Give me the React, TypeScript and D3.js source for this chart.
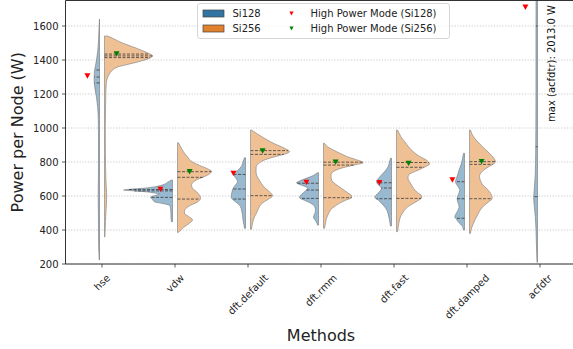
import React from 'react';
import * as d3 from 'd3';

// ---------- data ----------
const methods = ['hse', 'vdw', 'dft.default', 'dft.rmm', 'dft.fast', 'dft.damped', 'acfdtr'];
const yTicks = [200, 400, 600, 800, 1000, 1200, 1400, 1600];
const seriesNames = ['Si128', 'Si256'];
const markerNames = ['High Power Mode (Si128)', 'High Power Mode (Si256)'];

type Prof = [number, number][]; // [power (W), relative density]

const hseSi128: Prof = [[1641, 0], [1600, 0.4], [1520, 0.9], [1450, 1.8], [1400, 3], [1360, 4.2], [1320, 5.2], [1280, 5.3], [1230, 4.5], [1180, 3], [1120, 1.8], [1050, 1.2], [950, 1], [800, 1], [700, 1.1], [600, 1.3], [500, 1.1], [400, 1], [300, 0.8], [224, 0.3]];
const hseSi256: Prof = [[1541, 3], [1528, 8], [1500, 18], [1478, 28], [1455, 38], [1439, 44], [1424, 48], [1408, 44], [1390, 34], [1375, 24], [1361, 14], [1340, 8], [1312, 4.3], [1263, 1.8], [1200, 1.3], [1100, 1], [1000, 0.8], [850, 0.9], [700, 1.4], [620, 2], [580, 2.1], [520, 1.6], [450, 1], [359, 0.4]];
const vdwSi128: Prof = [[694, 1], [680, 5], [665, 10], [652, 20], [645, 30], [640, 42], [635, 49], [630, 38], [625, 27], [618, 18], [612, 13], [602, 18], [592, 22], [580, 20], [566, 18], [556, 10], [547, 3.5], [530, 2], [500, 1.6], [470, 1.5], [449, 1]];
const vdwSi256: Prof = [[913, 1], [890, 3], [860, 6], [830, 10], [800, 15], [780, 22], [760, 30], [745, 34], [730, 32], [712, 26], [695, 19], [682, 16], [665, 14], [645, 15], [625, 19], [605, 22], [585, 23], [565, 20], [545, 13], [530, 9], [510, 7], [498, 7], [480, 11], [459, 15], [440, 12], [415, 6], [386, 1]];
const defaultSi128: Prof = [[825, 1], [800, 2.5], [772, 4.3], [750, 8], [733, 12], [715, 11], [700, 9], [684, 8], [665, 10], [650, 12], [635, 13], [610, 14], [592, 14.3], [575, 12], [557, 8], [538, 5], [518, 4], [490, 3], [459, 2.5], [430, 1.5], [410, 1]];
const defaultSi256: Prof = [[988, 1], [969, 5.7], [950, 11], [929, 17], [910, 23], [890, 30.7], [875, 36], [861, 39], [848, 35], [835, 27], [824, 20], [812, 14], [795, 9], [772, 5.7], [750, 5.5], [724, 6], [700, 8], [675, 10.7], [650, 14], [625, 19], [602, 22], [585, 19], [567, 14], [547, 10], [527, 8], [500, 6], [478, 4], [441, 2], [404, 1]];
const rmmSi128: Prof = [[737, 1], [725, 4], [714, 7.6], [700, 14], [688, 19], [678, 22], [668, 19], [655, 13], [645, 11], [630, 13], [610, 17], [590, 19], [575, 14], [557, 7.6], [540, 4], [518, 3], [500, 3.5], [475, 5], [455, 3], [440, 1.5], [429, 1]];
const rmmSi256: Prof = [[910, 1], [890, 4], [871, 9.6], [850, 17], [831, 24], [815, 32], [800, 39], [795, 39.6], [785, 33], [772, 23], [758, 15], [743, 9.6], [720, 7.5], [694, 8], [670, 12], [645, 18], [620, 24], [600, 28], [590, 28], [575, 22], [557, 16], [538, 11], [518, 7], [495, 5], [469, 3], [440, 2], [410, 1]];
const fastSi128: Prof = [[822, 1], [800, 2], [772, 3.4], [750, 6], [724, 10], [700, 13.5], [684, 15], [665, 13], [645, 10], [625, 12], [605, 15.5], [592, 16.7], [575, 13], [547, 8.4], [530, 6], [508, 4], [480, 2.8], [459, 2], [440, 1.5], [424, 1]];
const fastSi256: Prof = [[988, 1], [970, 2.5], [949, 4.4], [920, 8], [890, 12], [870, 15], [851, 18.7], [833, 23], [816, 28.7], [800, 32], [788, 33], [770, 28], [753, 22], [738, 16], [724, 12], [705, 11.5], [684, 13], [665, 15], [645, 17], [620, 21], [600, 25], [588, 25], [575, 22], [557, 17], [535, 11], [508, 7], [485, 4.5], [459, 3], [420, 1.8], [390, 1]];
const dampedSi128: Prof = [[851, 1], [820, 2], [792, 3], [760, 5], [733, 6.4], [705, 8], [684, 9], [660, 7], [635, 4.7], [610, 6], [586, 7.4], [560, 6.5], [537, 5.4], [510, 7], [490, 9], [478, 9.7], [462, 8], [449, 6.4], [420, 2], [400, 1]];
const dampedSi256: Prof = [[988, 1], [970, 2], [949, 4], [920, 8], [890, 13], [870, 16.5], [851, 20], [825, 24], [802, 26], [785, 23], [763, 16.7], [740, 12], [714, 10], [690, 11], [665, 13.3], [645, 17], [625, 20], [605, 22], [586, 22.7], [565, 19], [537, 13.3], [510, 10], [488, 8], [460, 5.5], [439, 4], [410, 2], [380, 1]];
const acfdtrSi128: Prof = [[2013, 1], [1900, 1.3], [1600, 1.5], [1300, 1.5], [1000, 1.6], [850, 1.8], [720, 2.3], [640, 3.2], [590, 3.8], [540, 3.2], [480, 2.2], [400, 1.5], [300, 1], [210, 0.5]];

const si128Profiles: (Prof | null)[] = [hseSi128, vdwSi128, defaultSi128, rmmSi128, fastSi128, dampedSi128, acfdtrSi128];
const si256Profiles: (Prof | null)[] = [hseSi256, vdwSi256, defaultSi256, rmmSi256, fastSi256, dampedSi256, null];

const si128Quartiles: number[][] = [[1341, 1300, 1265], [638, 630, 592], [727, 641, 582], [675, 635, 586], [678, 647, 584], [684, 584, 469], [1600, 890, 596]];
const si256Quartiles: (number[] | null)[] = [[1435, 1424, 1414], [743, 710, 582], [867, 845, 602], [799, 782, 590], [797, 769, 586], [802, 786, 584], null];

const si128HighPower: (number | null)[] = [1306, 639, 733, 680, 678, 694, 1710];
const si256HighPower: (number | null)[] = [1435, 743, 865, 799, 792, 802, null];

const acfdtrMax = 2013.0;

// ---------- layout ----------
const W = 573;
const H = 349;
const left = 65.5;
const right = 576.5;
const top = 0.5;
const bottom = 264;

const blueFill = '#98b9d0';
const orangeFill = '#f0c095';
const blueSolid = '#3274a1';
const orangeSolid = '#e1812c';

const x = d3.scaleLinear().domain([-0.5, methods.length - 0.5]).range([left, right]);
const y = d3.scaleLinear().domain([200, 1750]).range([bottom, top]);
const step = x(1) - x(0);
const wScale = d3.scaleLinear().domain([0, 73]).range([0, step]);
const gap = 2.5;

let _ctx: CanvasRenderingContext2D | null = null;
function measure(s: string, font: string) {
  if (!_ctx) _ctx = document.createElement('canvas').getContext('2d');
  if (!_ctx) return s.length * 6;
  _ctx.font = font;
  return _ctx.measureText(s).width;
}

function widthAt(p: Prof, v: number) {
  const sorted = [...p].sort((a, b) => a[0] - b[0]);
  for (let i = 0; i < sorted.length - 1; i++) {
    const [v0, w0] = sorted[i];
    const [v1, w1] = sorted[i + 1];
    if (v >= v0 && v <= v1) return w0 + ((v - v0) / (v1 - v0)) * (w1 - w0);
  }
  return 0;
}

function tri(cx: number, cy: number, s: number) {
  const h = s * 0.9;
  return `M${cx - s / 2},${cy - h / 2}L${cx + s / 2},${cy - h / 2}L${cx},${cy + h / 2}Z`;
}

const FONT = "'DejaVu Sans', sans-serif";

export default function App() {
  const halfArea = (cx: number, side: -1 | 1) =>
    d3
      .area<[number, number]>()
      .y((d) => y(d[0]))
      .x0(() => cx + side * gap)
      .x1((d) => cx + side * (gap + wScale(d[1])))
      .curve(d3.curveMonotoneY);

  const tickFont = `10px ${FONT}`;

  return (
    <svg width={W} height={H} style={{ position: 'absolute', left: 0, top: 0, background: '#fff' }} fontFamily={FONT}>
      <defs>
        <clipPath id="plotclip">
          <rect x={left} y={top} width={right - left} height={bottom - top} />
        </clipPath>
      </defs>
      {/* grid */}
      {yTicks.map((t) => (
        <line key={'g' + t} x1={left} x2={right} y1={y(t)} y2={y(t)} stroke="#bdbdbd" strokeWidth={0.8} strokeDasharray="1.2,1.6" />
      ))}
      <g clipPath="url(#plotclip)">
        {methods.map((m, i) => {
          const cx = x(i);
          const p1 = si128Profiles[i];
          const p2 = si256Profiles[i];
          const q1 = si128Quartiles[i];
          const q2 = si256Quartiles[i];
          return (
            <g key={m}>
              {p1 && (
                <path d={halfArea(cx, -1)([...p1].sort((a, b) => b[0] - a[0])) || ''} fill={blueFill} stroke="#7f7f7f" strokeWidth={0.7} />
              )}
              {p2 && (
                <path d={halfArea(cx, 1)([...p2].sort((a, b) => b[0] - a[0])) || ''} fill={orangeFill} stroke="#8a8a8a" strokeWidth={0.7} />
              )}
              {p1 &&
                q1.map((q, k) => (
                  <line key={'q1' + k} x1={cx - gap} x2={cx - gap - wScale(widthAt(p1, q))} y1={y(q)} y2={y(q)} stroke="#3a3a3a" strokeWidth={0.8} strokeDasharray="3,1.5" />
                ))}
              {p2 &&
                q2 &&
                q2.map((q, k) => (
                  <line key={'q2' + k} x1={cx + gap} x2={cx + gap + wScale(widthAt(p2, q))} y1={y(q)} y2={y(q)} stroke="#3a3a3a" strokeWidth={0.8} strokeDasharray="3,1.5" />
                ))}
            </g>
          );
        })}
        {methods.map((m, i) => {
          const r = si128HighPower[i];
          const g = si256HighPower[i];
          return (
            <g key={'hp' + m}>
              {r != null && <path d={tri(x(i) - 0.2 * step, y(r), 6)} fill="red" />}
              {g != null && <path d={tri(x(i) + 0.2 * step, y(g), 6)} fill="green" />}
            </g>
          );
        })}
      </g>
      {/* annotation */}
      <text
        transform={`translate(${x(6) + 11.5},${5}) rotate(-90)`}
        textAnchor="end"
        dominantBaseline="central"
        fontSize={10}
        fill="#111"
      >
        {`max (acfdtr): ${acfdtrMax.toFixed(1)} W`}
      </text>
      {/* spines */}
      <line x1={left} x2={left} y1={top} y2={bottom} stroke="#333" strokeWidth={1} />
      <line x1={left} x2={right} y1={bottom} y2={bottom} stroke="#333" strokeWidth={1} />
      <line x1={left} x2={right} y1={top} y2={top} stroke="#333" strokeWidth={1} />
      {/* y ticks */}
      {yTicks.map((t) => (
        <g key={'yt' + t}>
          <line x1={left - 3.5} x2={left} y1={y(t)} y2={y(t)} stroke="#333" strokeWidth={0.8} />
          <text x={left - 7} y={y(t)} textAnchor="end" dominantBaseline="central" fontSize={10} fill="#222">
            {t}
          </text>
        </g>
      ))}
      {/* x ticks */}
      {methods.map((m, i) => {
        const w = measure(m, tickFont);
        const hbox = (w + 11.6) * Math.SQRT1_2;
        const cy = 272 + hbox / 2;
        return (
          <g key={'xt' + m}>
            <line x1={x(i)} x2={x(i)} y1={bottom} y2={bottom + 3.5} stroke="#333" strokeWidth={0.8} />
            <text transform={`translate(${x(i)},${cy}) rotate(-45)`} textAnchor="middle" dominantBaseline="central" fontSize={10} fill="#222">
              {m}
            </text>
          </g>
        );
      })}
      {/* axis labels */}
      <text transform={`translate(17,${(top + bottom) / 2}) rotate(-90)`} textAnchor="middle" dominantBaseline="central" fontSize={16} fill="#222">
        Power per Node (W)
      </text>
      <text x={(left + right) / 2} y={341} textAnchor="middle" fontSize={16} fill="#222">
        Methods
      </text>
      {/* legend */}
      <g>
        <rect x={197.5} y={3.5} width={252} height={35} rx={2.5} fill="#fff" fillOpacity={0.8} stroke="#cccccc" strokeWidth={0.8} />
        {seriesNames.map((s, k) => {
          const cy = 13.5 + k * 15;
          return (
            <g key={'lg' + s}>
              <rect x={203} y={cy - 3.5} width={21} height={7} fill={k === 0 ? blueSolid : orangeSolid} stroke="#444" strokeWidth={0.7} />
              <text x={232.5} y={cy} dominantBaseline="central" fontSize={10} fill="#222">
                {s}
              </text>
              <path d={tri(291.5, cy, 4.2)} fill={k === 0 ? 'red' : 'green'} />
              <text x={310.5} y={cy} dominantBaseline="central" fontSize={10} fill="#222">
                {markerNames[k]}
              </text>
            </g>
          );
        })}
      </g>
    </svg>
  );
}
